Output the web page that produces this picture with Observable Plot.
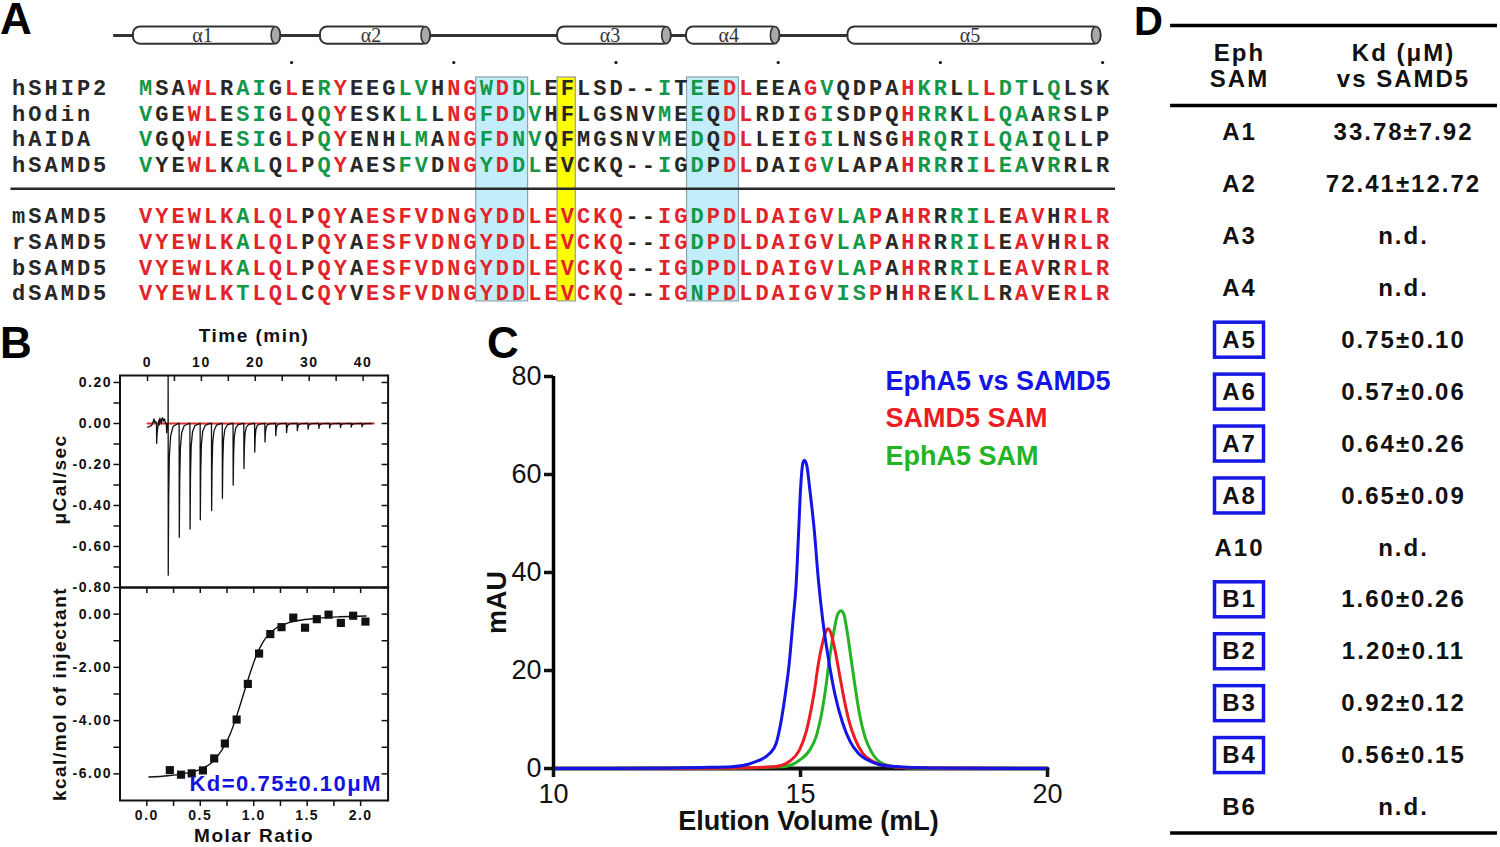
<!DOCTYPE html>
<html><head><meta charset="utf-8">
<script src="https://cdn.jsdelivr.net/npm/d3@7"></script>
<script src="https://cdn.jsdelivr.net/npm/@observablehq/plot@0.6"></script>
<style>
html,body{margin:0;padding:0;background:#fff;}
#fig{position:relative;width:1500px;height:847px;overflow:hidden;background:#fff;}
#fig svg{position:absolute;left:0;top:0;}
</style></head><body><div id="fig"></div>
<script>
// ================= DATA =================
// Panel A: SAM-domain alignment
const seqNames = ["hSHIP2","hOdin","hAIDA","hSAMD5","mSAMD5","rSAMD5","bSAMD5","dSAMD5"];
const sequences = [
  "MSAWLRAIGLERYEEGLVHNGWDDLEFLSD--ITEEDLEEAGVQDPAHKRLLLDTLQLSK",
  "VGEWLESIGLQQYESKLLLNGFDDVHFLGSNVMEEQDLRDIGISDPQHRRKLLQAARSLP",
  "VGQWLESIGLPQYENHLMANGFDNVQFMGSNVMEDQDLLEIGILNSGHRQRILQAIQLLP",
  "VYEWLKALQLPQYAESFVDNGYDDLEVCKQ--IGDPDLDAIGVLAPAHRRRILEAVRRLR",
  "VYEWLKALQLPQYAESFVDNGYDDLEVCKQ--IGDPDLDAIGVLAPAHRRRILEAVHRLR",
  "VYEWLKALQLPQYAESFVDNGYDDLEVCKQ--IGDPDLDAIGVLAPAHRRRILEAVHRLR",
  "VYEWLKALQLPQYAESFVDNGYDDLEVCKQ--IGDPDLDAIGVLAPAHRRRILEAVRRLR",
  "VYEWLKTLQLCQYVESFVDNGYDDLEVCKQ--IGNPDLDAIGVISPHHREKLLRAVERLR"
];
// conservation level per column (2 = identical, 1 = similar, 0 = other)
const conservationFamily = "100220110201200011022121100000001010220002100002110121101000";
const conservationSAMD5  = "222222122202202222222222222222002212222222211202201120220222";
const helices = [
  {label:"α1", start:-0.75, end:8.32},
  {label:"α2", start:10.78, end:17.56},
  {label:"α3", start:25.4, end:32.4},
  {label:"α4", start:33.35, end:39.1},
  {label:"α5", start:43.3, end:58.9}
];
const rulerColumns = [9,19,29,39,49,59];
const interfaceBlocks = [[21,23],[34,36]];
const keyColumns = [26];

// Panel B: ITC
const injectionTimes = [1.7,3.85,5.9,7.9,9.8,11.9,13.9,15.9,17.9,19.9,21.8,23.8,25.8,27.8,29.8,31.8,33.8,35.8,37.8,39.8];
const injectionPeaks = [-0.097,-0.74,-0.555,-0.515,-0.47,-0.425,-0.365,-0.30,-0.22,-0.14,-0.09,-0.06,-0.045,-0.035,-0.028,-0.024,-0.022,-0.02,-0.018,-0.017];
const injectionShape = [[-0.03,0],[0,1],[0.08,0.5],[0.2,0.22],[0.45,0.08],[0.9,0.02],[1.8,0]];
const preInjectionTrace = [[0,-0.018],[0.4,-0.015],[0.8,-0.008],[1.05,0.008],[1.2,0.022],[1.35,0.006],[1.5,0.01],[2.1,0.015],[2.3,0.026],[2.45,0.008],[2.65,0.022],[2.8,0.028],[2.95,0.012],[3.15,0.022],[3.35,0.0],[3.55,-0.045],[3.65,0.0],[3.75,0.0],[3.83,0.4]];
const baselineTime = [0, 42];
const molarRatio = [0.215,0.32,0.42,0.525,0.63,0.73,0.84,0.945,1.05,1.155,1.26,1.37,1.48,1.59,1.70,1.815,1.93,2.045];
const heatPerInjection = [-5.86,-6.03,-5.98,-5.87,-5.42,-4.86,-3.96,-2.62,-1.48,-0.75,-0.49,-0.13,-0.51,-0.19,-0.02,-0.33,-0.06,-0.28];
const fitRatio = [0.02,0.2,0.35,0.5,0.6,0.7,0.78,0.85,0.92,0.98,1.03,1.08,1.14,1.22,1.32,1.45,1.6,1.8,2.05];
const fitHeat  = [-6.12,-6.07,-5.99,-5.83,-5.6,-5.12,-4.5,-3.7,-2.8,-2.05,-1.5,-1.1,-0.75,-0.5,-0.33,-0.22,-0.15,-0.1,-0.07];
const kdLabel = "Kd=0.75±0.10μM";

// Panel C: gel filtration
const seriesNames = ["EphA5 vs SAMD5","SAMD5 SAM","EphA5 SAM"];
const complexTrace = [[10,0],[12,0.05],[13,0.2],[13.61,0.35],[14.04,1.2],[14.38,3.1],[14.51,5.2],[14.59,8.7],[14.68,14.3],[14.77,21.3],[14.85,30.3],[14.91,37.3],[14.96,47.8],[15.0,56.8],[15.05,62.4],[15.08,62.9],[15.13,61.7],[15.19,56.8],[15.28,48.5],[15.36,38.7],[15.45,30.3],[15.56,22.7],[15.7,15.0],[15.85,9.4],[16.0,5.6],[16.17,3.1],[16.43,1.4],[16.77,0.5],[17.46,0.15],[18.5,0.05],[20,0]];
const samd5Trace = [[10,0],[13,0.05],[14.47,0.35],[14.81,1.7],[14.98,3.8],[15.11,7.3],[15.19,10.8],[15.28,15.7],[15.36,21.3],[15.45,25.8],[15.51,27.9],[15.56,28.5],[15.62,27.5],[15.7,24.1],[15.79,19.2],[15.88,14.3],[15.99,9.4],[16.11,5.9],[16.26,3.1],[16.47,1.4],[16.77,0.5],[17.2,0.15],[18.5,0.03],[20,0]];
const epha5Trace = [[10,0],[13,0.03],[14.64,0.35],[14.98,1.7],[15.19,3.8],[15.32,6.6],[15.42,10.8],[15.51,16.4],[15.59,22.7],[15.68,28.2],[15.75,31.4],[15.82,32.2],[15.88,31.4],[15.94,28.2],[16.02,22.7],[16.11,16.4],[16.2,10.8],[16.3,6.6],[16.43,3.5],[16.6,1.4],[16.9,0.35],[17.37,0.07],[18.5,0.02],[20,0]];
const bufferTrace = [[10,0],[20,0]];

// Panel D: Kd table
const ephSAM = ["A1","A2","A3","A4","A5","A6","A7","A8","A10","B1","B2","B3","B4","B6"];
const kdVsSAMD5 = ["33.78±7.92","72.41±12.72","n.d.","n.d.","0.75±0.10","0.57±0.06","0.64±0.26","0.65±0.09","n.d.","1.60±0.26","1.20±0.11","0.92±0.12","0.56±0.15","n.d."];
const strongBinders = ["A5","A6","A7","A8","B1","B2","B3","B4"];

// ================= DRAWING =================
const W = 1500, H = 847;
const sans = "Arial,'Liberation Sans',Helvetica,sans-serif";
const mono = "'Courier New','Liberation Mono',monospace";
const serif = "'Times New Roman','Liberation Serif',serif";
const fig = document.getElementById("fig");
const st = (extra={}) => ({background:"transparent", overflow:"visible", fontFamily:sans, color:"#111", ...extra});

// ---- Panel A
const levelColor = {"2":"#e3232b","1":"#13984a","0":"#272727"};
const rowOf = i => (i < 4 ? i : i + 1);
const residues = sequences.flatMap((s, i) => Array.from(s, (ch, j) => ({row: rowOf(i), col: j, ch, level: (i < 4 ? conservationFamily : conservationSAMD5)[j]})));
const nameLetters = seqNames.flatMap((n, i) => Array.from(n, (ch, j) => ({row: rowOf(i), col: j, ch})));
const hy1 = -2.38, hy2 = -1.71;
fig.append(Plot.plot({
  width: W, height: H, margin: 0,
  x: {domain: [-8.946, 60.72], range: [0, 1130], axis: null},
  y: {domain: [-3.411, 8.674], range: [0, 310], axis: null},
  style: st(),
  marks: [
    Plot.rect(interfaceBlocks, {x1: d => d[0] - 0.62, x2: d => d[1] + 0.58, y1: -0.41, y2: 8.32, fill: "#c3edfa", stroke: "#8ea3aa", strokeWidth: 1.2}),
    Plot.rect(keyColumns, {x1: d => d - 0.6, x2: d => d + 0.52, y1: -0.41, y2: 8.32, fill: "#ffff00", stroke: "#999", strokeWidth: 1.2}),
    Plot.ruleY([-2.047], {x1: -1.97, x2: helices[helices.length-1].end, stroke: "#333", strokeWidth: 3}),
    Plot.rect(helices, {x1: "start", x2: "end", y1: hy1, y2: hy2, rx: 7, fill: "#fff", stroke: "#333", strokeWidth: 2}),
    Plot.rect(helices, {x1: d => d.end - 0.55, x2: "end", y1: hy1, y2: hy2, rx: 4.5, ry: 8.5, fill: "#a9a9a9", stroke: "#333", strokeWidth: 1.6}),
    Plot.text(helices, {x: d => (d.start + d.end - 0.55) / 2, y: -2.04, text: "label", fontFamily: serif, fontSize: 20, fill: "#333"}),
    Plot.dot(rulerColumns, {x: d => d, y: -0.994, r: 1.6, fill: "#111", stroke: null}),
    Plot.ruleY([3.93], {x1: -8.3, x2: 59.8, stroke: "#2a2a2a", strokeWidth: 2.5}),
    Plot.text(nameLetters, {x: d => d.col - 7.83, y: "row", text: "ch", fill: "#272727", fontFamily: mono, fontSize: 22, fontWeight: "bold"}),
    Plot.text(residues, {x: "col", y: "row", text: "ch", fill: d => levelColor[d.level], fontFamily: mono, fontSize: 22, fontWeight: "bold"})
  ]
}));

// ---- Panel B (ITC)
const bL = 119.5, bR = 387.6, bT = 375, bM = 587, bB = 800;
const trace = preInjectionTrace.concat(injectionTimes.flatMap((t, i) => injectionShape.map(([dt, f]) => [t + dt, injectionPeaks[i] * f]))).sort((a, b) => a[0] - b[0]);
const rawYTicks = d3.range(-8, 3).map(d => +(d / 10).toFixed(1));
fig.append(Plot.plot({
  width: W, height: H, marginLeft: bL, marginRight: W - bR, marginTop: bT, marginBottom: H - bM,
  x: {domain: [-5.1, 44.64]},
  y: {domain: [-0.8, 0.234]},
  style: st({letterSpacing: "1.5px"}),
  marks: [
    Plot.line(baselineTime, {x: d => d, y: 0, stroke: "#e03030", strokeWidth: 2}),
    Plot.line(trace, {x: d => d[0], y: d => d[1], stroke: "#111", strokeWidth: 1.3, clip: true}),
    Plot.frame({stroke: "#111", strokeWidth: 2}),
    Plot.axisY({ticks: [0.2, 0, -0.2, -0.4, -0.6, -0.8], tickFormat: d => d.toFixed(2), tickSize: 6, tickPadding: 2, fontSize: 14, fontWeight: "bold", strokeWidth: 1.5, label: null}),
    Plot.axisY({ticks: [0.1, -0.1, -0.3, -0.5, -0.7], tickFormat: () => "", tickSize: 6, strokeWidth: 1.5, label: null}),
    Plot.tickY(rawYTicks, {y: d => d, insetLeft: (bR - bL) - 6, stroke: "#111", strokeWidth: 1.5}),
    Plot.axisX({anchor: "top", ticks: [0, 10, 20, 30, 40], tickSize: 0, tickPadding: 9, fontSize: 14, fontWeight: "bold", label: null}),
    Plot.tickX(d3.range(0, 41, 5), {x: d => d, insetBottom: (bM - bT) - 6, stroke: "#111", strokeWidth: 1.5}),
    Plot.text(["Time (min)"], {frameAnchor: "top", lineAnchor: "middle", dy: -40, fontSize: 19, fontWeight: "bold"}),
    Plot.text(["μCal/sec"], {frameAnchor: "left", textAnchor: "middle", dx: -60, dy: -2, rotate: -90, fontSize: 19, fontWeight: "bold"})
  ]
}));
const ratioTicks = d3.range(0, 9).map(d => d * 0.25);
fig.append(Plot.plot({
  width: W, height: H, marginLeft: bL, marginRight: W - bR, marginTop: bM, marginBottom: H - bB,
  x: {domain: [-0.251, 2.257]},
  y: {domain: [-7, 1]},
  style: st({letterSpacing: "1.5px"}),
  marks: [
    Plot.line(fitRatio, {x: d => d, y: (d, i) => fitHeat[i], curve: "monotone-x", stroke: "#111", strokeWidth: 1.4}),
    Plot.dot(molarRatio, {x: d => d, y: (d, i) => heatPerInjection[i], symbol: "square", r: 4.6, fill: "#111", stroke: null}),
    Plot.frame({stroke: "#111", strokeWidth: 2}),
    Plot.axisY({ticks: [0, -2, -4, -6], tickFormat: d => d.toFixed(2), tickSize: 6, tickPadding: 2, fontSize: 14, fontWeight: "bold", strokeWidth: 1.5, label: null}),
    Plot.axisY({ticks: [-1, -3, -5], tickFormat: () => "", tickSize: 6, strokeWidth: 1.5, label: null}),
    Plot.tickY(d3.range(-6, 1), {y: d => d, insetLeft: (bR - bL) - 6, stroke: "#111", strokeWidth: 1.5}),
    Plot.axisX({ticks: [0, 0.5, 1, 1.5, 2], tickFormat: d => d.toFixed(1), tickSize: 6, tickPadding: 4, fontSize: 14, fontWeight: "bold", strokeWidth: 1.5, label: null}),
    Plot.axisX({ticks: [0.25, 0.75, 1.25, 1.75], tickFormat: () => "", tickSize: 6, strokeWidth: 1.5, label: null}),
    Plot.tickX(ratioTicks, {x: d => d, insetBottom: (bB - bM) - 6, stroke: "#111", strokeWidth: 1.5}),
    Plot.text([kdLabel], {frameAnchor: "bottom-right", dx: -6, dy: -10, textAnchor: "end", fontSize: 22, fontWeight: "bold", fill: "#1414dc"}),
    Plot.text(["Molar Ratio"], {frameAnchor: "bottom", lineAnchor: "middle", dy: 35, fontSize: 19, fontWeight: "bold"}),
    Plot.text(["kcal/mol of injectant"], {frameAnchor: "left", textAnchor: "middle", dx: -60, rotate: -90, fontSize: 19, fontWeight: "bold"})
  ]
}));

// ---- Panel C (SEC)
const cColors = ["#1414e6","#ec1c24","#22b422"];
const cL = 553, cR = 1047, cT = 376, cB = 768;
fig.append(Plot.plot({
  width: W, height: H, marginLeft: cL, marginRight: W - cR, marginTop: cT, marginBottom: H - cB,
  x: {domain: [10, 20]},
  y: {domain: [0, 80]},
  style: st(),
  marks: [
    Plot.line(bufferTrace, {x: d => d[0], y: d => d[1], stroke: "#111", strokeWidth: 4}),
    Plot.line(epha5Trace, {x: d => d[0], y: d => d[1], stroke: cColors[2], strokeWidth: 3, curve: "monotone-x"}),
    Plot.line(samd5Trace, {x: d => d[0], y: d => d[1], stroke: cColors[1], strokeWidth: 3, curve: "monotone-x"}),
    Plot.line(complexTrace, {x: d => d[0], y: d => d[1], stroke: cColors[0], strokeWidth: 3, curve: "monotone-x"}),
    Plot.ruleX([10], {stroke: "#000", strokeWidth: 3.5}),
    Plot.axisY({ticks: [0, 20, 40, 60, 80], tickSize: 9, tickPadding: 3, fontSize: 27, strokeWidth: 3.5, label: null}),
    Plot.axisX({ticks: [10, 15, 20], tickSize: 9, tickPadding: 6, fontSize: 27, strokeWidth: 3.5, label: null}),
    Plot.text(["mAU"], {frameAnchor: "left", textAnchor: "middle", dx: -56, dy: 30, rotate: -90, fontSize: 27, fontWeight: "bold"}),
    Plot.text(["Elution Volume (mL)"], {frameAnchor: "bottom", lineAnchor: "middle", dx: 8, dy: 53, fontSize: 27, fontWeight: "bold"}),
    ...seriesNames.map((name, i) => Plot.text([name], {frameAnchor: "top-left", textAnchor: "start", dx: 885 - cL, dy: -6 + i * 37.5, fontSize: 27, fontWeight: "bold", fill: cColors[i]}))
  ]
}));

// ---- Panel D (table)
const rows = ephSAM.map((name, i) => ({name, kd: kdVsSAMD5[i], row: i}));
fig.append(Plot.plot({
  width: W, height: H, marginLeft: 1239, marginRight: W - 1403, marginTop: 132, marginBottom: H - 807,
  x: {domain: [0, 1], axis: null},
  y: {domain: [0, 13], reverse: true, axis: null},
  style: st({letterSpacing: "2px"}),
  marks: [
    Plot.ruleY([-2.06, -0.52, 13.49], {x1: -0.42, x2: 1.573, stroke: "#000", strokeWidth: 3.5}),
    Plot.text(["Eph\nSAM"], {x: 0, y: -1.29, lineHeight: 1.1, fontSize: 24, fontWeight: "bold"}),
    Plot.text(["Kd (μM)\nvs SAMD5"], {x: 1, y: -1.29, lineHeight: 1.1, fontSize: 24, fontWeight: "bold"}),
    Plot.rect(rows.filter(d => strongBinders.includes(d.name)), {x1: 0, x2: 0, y1: "row", y2: "row", insetLeft: -24.5, insetRight: -24.5, insetTop: -17.5, insetBottom: -17.5, fill: "none", stroke: "#1717e6", strokeWidth: 3.5}),
    Plot.text(rows, {x: 0, y: "row", text: "name", fontSize: 24, fontWeight: "bold"}),
    Plot.text(rows, {x: 1, y: "row", text: "kd", fontSize: 24, fontWeight: "bold"})
  ]
}));

// ---- Panel letters
const ov = d3.select(fig).append("svg").attr("width", W).attr("height", H).style("position","absolute").style("left","0").style("top","0");
[["A",0,34,44],["B",0,358,44],["C",487,358,44],["D",1134,35,40]].forEach(([t,x,y,s]) =>
  ov.append("text").attr("x", x).attr("y", y).attr("font-family", sans).attr("font-weight", "bold").attr("font-size", s).attr("fill", "#000").text(t));
</script></body></html>
